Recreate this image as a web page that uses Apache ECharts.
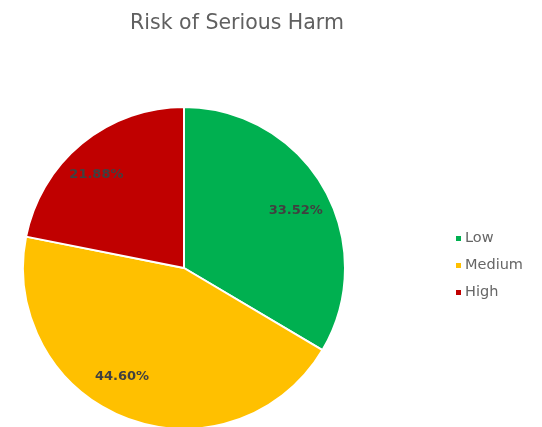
<!DOCTYPE html>
<html><head><meta charset="utf-8">
<script src="https://cdn.jsdelivr.net/npm/echarts@6/dist/echarts.min.js"></script>
<style>html,body{margin:0;padding:0;background:#fff}#c{width:542px;height:427px}</style>
</head><body><div id="c"></div>
<script>
const categories = ['Low', 'Medium', 'High'];
const values = [33.52, 44.60, 21.88];
const colors = ['#00B050', '#FFC000', '#C00000'];

const labelNudge = [[0, 6], [-16, -11], [-6, 6]];
const data = categories.map((n, i) => ({ name: n, value: values[i], itemStyle: { color: colors[i] } }));
const R = 161;
const chart = echarts.init(document.getElementById('c'));
chart.setOption({
  animation: false,
  title: {
    text: 'Risk of Serious Harm', left: 232, top: 8, textAlign: 'center',
    textStyle: { fontFamily: 'DejaVu Sans', fontWeight: 'normal', fontSize: 20.5, color: '#606060' }
  },
  legend: {
    orient: 'vertical', left: 449, top: 226, itemWidth: 7, itemHeight: 7, itemGap: 12,
    icon: 'rect', data: categories,
    textStyle: { fontFamily: 'DejaVu Sans', fontSize: 14.5, color: '#666666', padding: [0, 0, 0, -2] }
  },
  series: [
    {
      type: 'pie', center: [184, 268], radius: [0, R], startAngle: 90, clockwise: true,
      data: data,
      itemStyle: { borderColor: '#fff', borderWidth: 2 },
      label: { show: false }, labelLine: { show: false }
    },
    {
      type: 'pie', center: [184, 268], radius: [0, R * 1.56], startAngle: 90, clockwise: true,
      silent: true, legendHoverLink: false,
      data: categories.map((n, i) => ({ name: n, value: values[i], itemStyle: { color: 'rgba(0,0,0,0)' } })),
      label: {
        show: true, position: 'inside',
        formatter: p => p.value.toFixed(2) + '%',
        fontFamily: 'DejaVu Sans', fontWeight: 'bold', fontSize: 13, color: '#404040'
      },
      labelLayout: p => ({ dx: labelNudge[p.dataIndex][0], dy: labelNudge[p.dataIndex][1] }),
      labelLine: { show: false }
    }
  ]
});
</script></body></html>
